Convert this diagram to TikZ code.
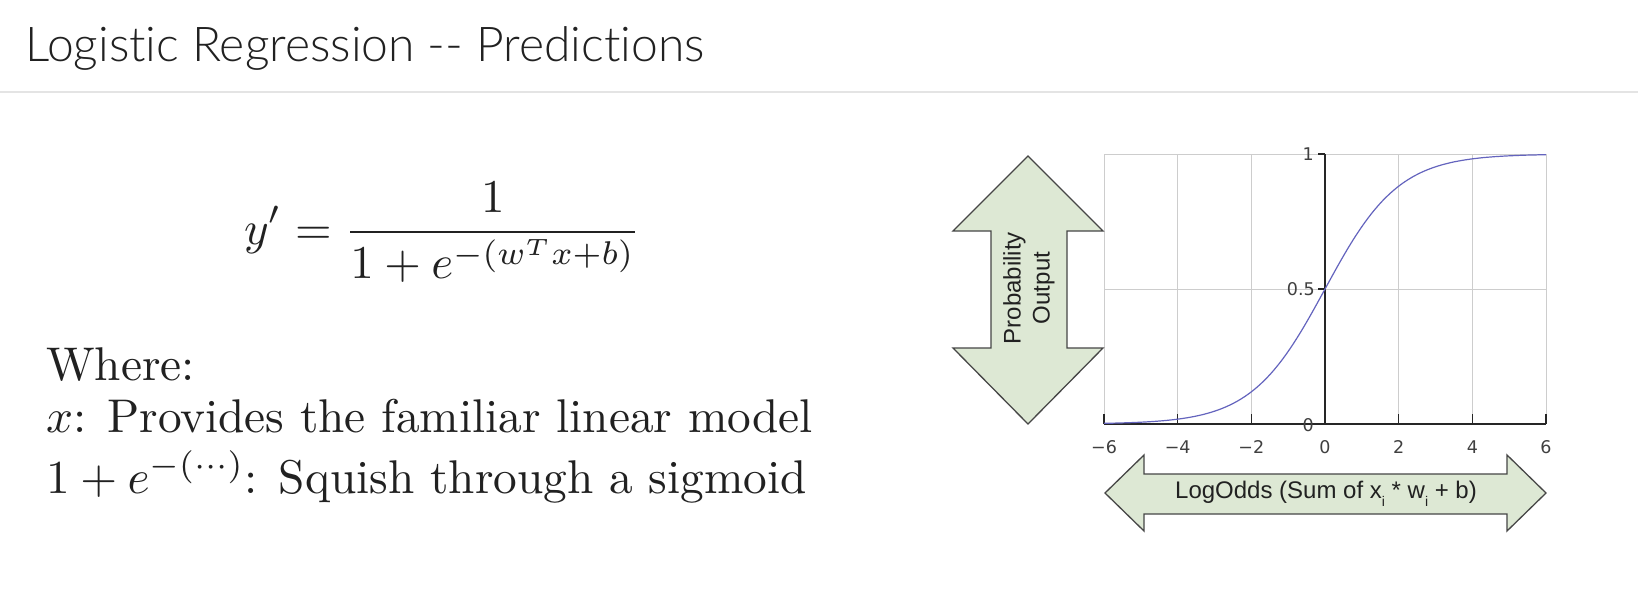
\documentclass[tikz,border=0pt]{standalone}
\usepackage{graphicx}
\usepackage{fontspec}
\setsansfont{Liberation Sans}
\newfontfamily\titlefont{Lato}[UprightFont=* Light,Ligatures=NoCommon]
\newfontfamily\tickfont{DejaVu Sans}

\definecolor{textdark}{RGB}{33,33,33}
\definecolor{sepgray}{RGB}{228,228,228}
\definecolor{arrowgreen}{RGB}{221,232,212}
\definecolor{arrowedge}{RGB}{70,70,70}
\definecolor{gridgray}{RGB}{205,205,205}
\definecolor{sigblue}{RGB}{100,100,190}

\newcommand{\lowi}{\raisebox{-0.35em}{\fontsize{14}{14}\selectfont i}}
\newcommand{\slidetext}[1]{\scalebox{4.73}{#1}}

\begin{document}
\begin{tikzpicture}[x=1pt,y=-1pt]
\tikzstyle{arrowbox}=[fill=arrowgreen,draw=arrowedge,line width=1.3pt,line join=miter]
\tikzstyle{gridline}=[draw=gridgray,line width=1pt]
\tikzstyle{axisline}=[draw=black!85,line width=1.4pt]
\tikzstyle{ticklab}=[font=\tickfont\fontsize{17.5}{17.5}\selectfont,text=black!75,inner sep=0pt]
\tikzstyle{bodytext}=[anchor=base west,inner sep=0pt,text=textdark]

\useasboundingbox (0,0) rectangle (1638,592);
\fill[white] (0,0) rectangle (1638,592);

% title and rule
\node[anchor=base west,inner sep=0pt,font=\titlefont\fontsize{48}{58}\selectfont,text=textdark] (title) at (25,61) {Logistic Regression -{}- Predictions};
\draw[sepgray,line width=2pt] (0,92) -- (1638,92);

% formula
\node[anchor=west,inner sep=0pt,text=textdark] (formula) at (244,232) {\scalebox{4.7}{$\displaystyle y' = \frac{1}{1+e^{-(w^Tx+b)}}$}};

\node[bodytext] (whereTxt) at (46,380) {\slidetext{Where:}};
\node[bodytext] (xTxt) at (46,432) {\slidetext{$x$: Provides the familiar linear model}};
\node[bodytext] (sigTxt) at (46,493) {\slidetext{$1+e^{-(\cdots)}$: Squish through a sigmoid}};

% plot
\begin{scope}[shift={(1325,424)},x=36.83pt,y=270pt]
\foreach \gx in {-6,-4,-2,2,4,6} \draw[gridline] (\gx,0) -- (\gx,1);
\draw[gridline] (-6,0.5) -- (6,0.5);
\draw[gridline] (-6,1) -- (6,1);
\draw[axisline] (-6,0) -- (6,0);
\draw[axisline] (0,0) -- (0,1);
\foreach \gx in {-6,-4,-2,2,4,6} \draw[axisline] (\gx,0) -- ++(0pt,10pt);
\foreach \gy in {0,0.5,1} \draw[axisline] (0,\gy) -- ++(-7pt,0pt);
\draw[sigblue,line width=1.2pt] plot[domain=-6:6,samples=120] (\x,{1/(1+exp(-\x))});

\foreach \gx/\gl in {-6/−6,-4/−4,-2/−2,0/0,2/2,4/4,6/6}
  \node[ticklab,yshift=-23pt] (xtick\gx) at (\gx,0) {\gl};
\node[ticklab,anchor=east,xshift=-11pt] (ytickA) at (0,1) {1};
\node[ticklab,anchor=east,xshift=-10pt] (ytickB) at (0,0.5) {0.5};
\node[ticklab,anchor=east,xshift=-11pt,yshift=-1pt] (ytickC) at (0,0) {0};
\end{scope}

% probability arrow
\draw[arrowbox] (1028,156) -- (1103,231) -- (1067,231) -- (1067,348) -- (1103,348) -- (1028,424)
      -- (953,348) -- (991,348) -- (991,231) -- (953,231) -- cycle;
\node[rotate=90,align=center,font=\sffamily\fontsize{24}{29}\selectfont,text=textdark] (probTxt) at (1029,288) {Probability\\Output};

% log odds arrow
\draw[arrowbox] (1105,493) -- (1144,455) -- (1144,474) -- (1507,474) -- (1507,455) -- (1546,493)
      -- (1507,531) -- (1507,514) -- (1144,514) -- (1144,531) -- cycle;
\node[font=\sffamily\fontsize{24}{28}\selectfont,text=textdark] (oddsTxt) at (1326,494) {LogOdds (Sum of x\lowi{} * w\lowi{} + b)};
\end{tikzpicture}
\end{document}
